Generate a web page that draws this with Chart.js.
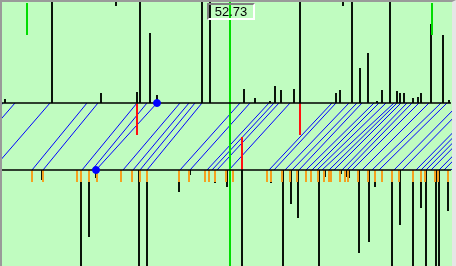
<!DOCTYPE html>
<html>
<head>
<meta charset="utf-8">
<script src="https://cdn.jsdelivr.net/npm/chart.js@4"></script>
<style>
  body { margin: 0; background: #fff; }
  #wrap { position: relative; width: 456px; height: 266px; }
  #trace { position: absolute; left: 0; top: 0; background: #c0fcc0; }
  #frame {
    position: absolute; left: 0; top: 0; right: 0; bottom: 0;
    border-left: 2px solid #9a9a9a; border-top: 2px solid #9a9a9a;
    border-right: 4px solid #e6e6e6; pointer-events: none;
  }
  #readout {
    position: absolute; left: 207px; top: 3px; width: 44px; height: 13px;
    border-top: 2px solid #808080; border-left: 2px solid #808080;
    border-right: 2px solid #fff; border-bottom: 2px solid #fff;
    font: 13px "Liberation Sans", Arial, sans-serif; color: #000;
    text-align: center; line-height: 13px;
  }
</style>
</head>
<body>
<div id="wrap">
  <canvas id="trace" width="456" height="266"></canvas>
  <div id="frame"></div>
  <div id="readout">52.73</div>
</div>
<script>
// baselines (y) of the two traces and their extent
const topBase = 103;
const bottomBase = 170;
const baseFrom = 2;
const baseTo = 451;

// blue moveout lines: x at bottom baseline -> x at top baseline
const lineStart = [-55, -43, -8, 32, 43, 82, 92, 96, 123, 133, 140, 147,
  180, 190, 207, 212, 217, 229,
  269, 274, 285, 292, 299, 306, 312, 317, 322, 329, 334, 342, 347, 352, 362, 372, 379,
  394, 402, 416, 421, 426, 431, 439, 444, 451];
const lineEnd = [3, 15, 50, 87, 98, 137, 147, 157, 180, 189, 195, 202,
  240, 250, 269, 274, 279, 290,
  332, 336, 349, 357, 362, 374, 379, 386, 394, 397, 401, 407, 412, 419, 429, 441, 447,
  460, 468, 482, 487, 492, 497, 505, 510, 517];

// spikes above the top baseline: x and tip y
const upX = [5, 52, 101, 137, 140, 150, 157, 202, 210, 244, 255, 270, 275, 281, 294, 300,
  336, 340, 352, 360, 368, 377, 382, 390, 397, 400, 404, 413, 418, 421, 431, 443, 449];
const upTip = [99, 0, 93, 92, 0, 33, 95, 0, 0, 89, 98, 101, 86, 90, 89, 0,
  93, 90, 0, 68, 53, 101, 90, 0, 91, 93, 93, 98, 97, 93, 24, 35, 100];

// spikes below the bottom baseline: x and tip y
const downX = [42, 81, 89, 96, 139, 147, 179, 190, 209, 215, 227, 242, 271, 283, 291, 298,
  311, 319, 325, 330, 341, 346, 349, 359, 369, 375, 392, 400, 413, 421, 426, 436, 439, 448];
const downTip = [180, 266, 237, 178, 266, 266, 192, 175, 177, 183, 187, 266, 183, 266, 204, 218,
  174, 266, 177, 175, 174, 177, 178, 253, 242, 187, 266, 225, 266, 208, 266, 266, 266, 211];

// short marks hanging from the top edge
const edgeX = [116, 343];
const edgeFrom = 2;
const edgeTo = 6;

// orange picks under the bottom baseline
const pickX = [32, 43, 77, 81, 89, 97, 121, 132, 140, 147, 179, 189, 205, 209, 215, 226, 233,
  267, 271, 282, 290, 297, 306, 311, 318, 324, 329, 331, 340, 345, 348, 358, 368, 375, 382,
  392, 399, 413, 421, 425, 435, 438, 448];
const pickTip = 182;

// red markers: x, from y, to y
const redX = [137, 300, 242];
const redFrom = [103, 103, 137];
const redTo = [135, 135, 170];

// green cursors: x, from y, to y
const greenX = [27, 230, 432];
const greenFrom = [3, 0, 3];
const greenTo = [35, 266, 35];

// selected event dots
const dotX = [157, 96];
const dotY = [103, 170];

function segments(x0, y0, x1, y1) {
  const pts = [];
  for (let i = 0; i < x0.length; i++) {
    pts.push({ x: x0[i], y: y0[i] });
    pts.push({ x: x1[i], y: y1[i] });
    pts.push({ x: x1[i], y: null });
  }
  return pts;
}

function fill(n, v) {
  return new Array(n).fill(v);
}

function lineSet(data, color, width, order) {
  return {
    data: data,
    showLine: true,
    borderColor: color,
    borderWidth: width,
    pointRadius: 0,
    spanGaps: false,
    tension: 0,
    order: order,
  };
}

const datasets = [
  lineSet(segments(greenX, greenFrom, greenX, greenTo), "#00dd00", 2, 1),
  lineSet(segments(redX, redFrom, redX, redTo), "#ff1010", 2, 2),
  lineSet(segments(lineStart, fill(lineStart.length, bottomBase), lineEnd, fill(lineEnd.length, topBase)), "#0000ff", 1, 3),
  lineSet(segments(pickX, fill(pickX.length, bottomBase), pickX, fill(pickX.length, pickTip)), "#f4a020", 2, 4),
  lineSet(segments(upX, fill(upX.length, topBase), upX, upTip), "#0a140a", 2, 5),
  lineSet(segments(downX, fill(downX.length, bottomBase), downX, downTip), "#0a140a", 2, 5),
  lineSet(segments(edgeX, fill(edgeX.length, edgeFrom), edgeX, fill(edgeX.length, edgeTo)), "#0a140a", 2, 5),
  lineSet(segments([baseFrom, baseFrom], [topBase, bottomBase], [baseTo, baseTo], [topBase, bottomBase]), "#000000", 1.5, 0),
  {
    data: dotX.map((x, i) => ({ x: x, y: dotY[i] })),
    showLine: false,
    pointRadius: 3.5,
    pointBackgroundColor: "#0000ff",
    pointBorderColor: "#0000ff",
    order: -1,
  },
];

const ctx = document.getElementById("trace");

new Chart(ctx, {
  type: "scatter",
  data: { datasets: datasets },
  options: {
    responsive: false,
    animation: false,
    layout: { padding: 0, autoPadding: false },
    plugins: { legend: { display: false }, tooltip: { enabled: false } },
    scales: {
      x: { type: "linear", min: 0, max: 456, display: false },
      y: { min: 0, max: 266, reverse: true, display: false },
    },
  },
});
</script>
</body>
</html>
